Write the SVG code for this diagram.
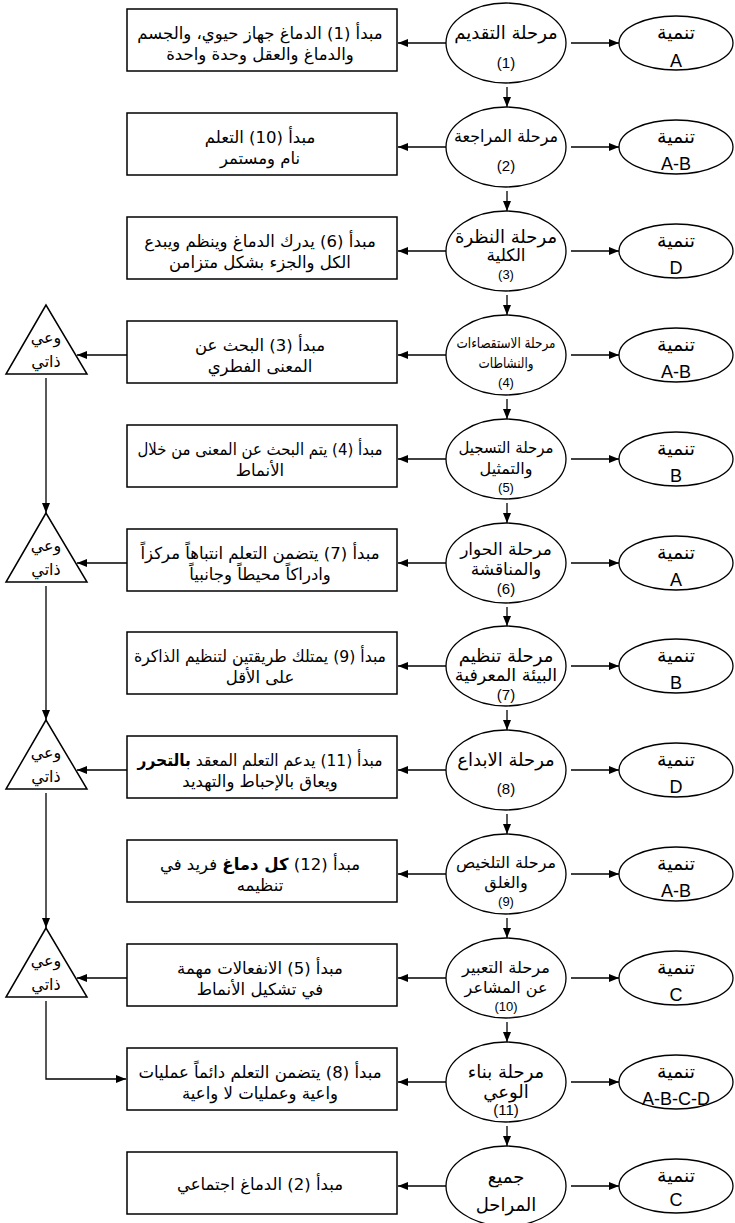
<svg xmlns="http://www.w3.org/2000/svg" width="735" height="1223" viewBox="0 0 735 1223">
<style>
.bg{fill:#fff}
.box{fill:#fff;stroke:#000;stroke-width:1.5}
.stage{fill:#fff;stroke:#000;stroke-width:1.3}
.dev{fill:#fff;stroke:#000;stroke-width:1.3}
.tri{fill:#fff;stroke:#000;stroke-width:1.5;stroke-linejoin:miter}
.ar{font-family:"DejaVu Sans",sans-serif;font-size:16.5px;text-anchor:middle;direction:rtl;dominant-baseline:central;fill:#000}
.st{font-family:"DejaVu Sans",sans-serif;font-size:18px;text-anchor:middle;direction:rtl;dominant-baseline:central;fill:#000}
.dv{font-family:"DejaVu Sans",sans-serif;font-size:19px;text-anchor:middle;direction:rtl;dominant-baseline:central;fill:#000}
.aw{font-family:"DejaVu Sans",sans-serif;font-size:16px;text-anchor:middle;direction:rtl;dominant-baseline:central;fill:#000}
.num{font-family:"Liberation Sans",Arial,sans-serif;font-size:15px;text-anchor:middle;dominant-baseline:central;fill:#000}
.num3{font-family:"Liberation Sans",Arial,sans-serif;font-size:13px;text-anchor:middle;dominant-baseline:central;fill:#000}
.lat{font-family:"Liberation Sans",Arial,sans-serif;font-size:18px;text-anchor:middle;dominant-baseline:central;fill:#000}
.b{font-weight:bold}
.conn line,.conn path{stroke:#000;stroke-width:1.3;fill:none}
.arr{marker-end:url(#ah)}
</style>
<defs>
<marker id="ah" viewBox="0 0 10 8" refX="10" refY="4" markerWidth="10" markerHeight="8" markerUnits="userSpaceOnUse" orient="auto"><path d="M0,0 L10,4 L0,8 z" fill="#000"/></marker>
</defs>
<rect class="bg" x="0" y="0" width="735" height="1223"/>

<g id="connectors" class="conn">
<line class="arr" x1="446" y1="43" x2="398" y2="43"/>
<line class="arr" x1="446" y1="147" x2="398" y2="147"/>
<line class="arr" x1="446" y1="251" x2="398" y2="251"/>
<line class="arr" x1="446" y1="355" x2="398" y2="355"/>
<line class="arr" x1="446" y1="459" x2="398" y2="459"/>
<line class="arr" x1="446" y1="563" x2="398" y2="563"/>
<line class="arr" x1="446" y1="666" x2="398" y2="666"/>
<line class="arr" x1="446" y1="770" x2="398" y2="770"/>
<line class="arr" x1="446" y1="874" x2="398" y2="874"/>
<line class="arr" x1="446" y1="978" x2="398" y2="978"/>
<line class="arr" x1="446" y1="1082" x2="398" y2="1082"/>
<line class="arr" x1="446" y1="1186" x2="398" y2="1186"/>
<line class="arr" x1="571" y1="43" x2="619" y2="43"/>
<line class="arr" x1="571" y1="147" x2="619" y2="147"/>
<line class="arr" x1="571" y1="251" x2="619" y2="251"/>
<line class="arr" x1="571" y1="355" x2="619" y2="355"/>
<line class="arr" x1="571" y1="459" x2="619" y2="459"/>
<line class="arr" x1="571" y1="563" x2="619" y2="563"/>
<line class="arr" x1="571" y1="666" x2="619" y2="666"/>
<line class="arr" x1="571" y1="770" x2="619" y2="770"/>
<line class="arr" x1="571" y1="874" x2="619" y2="874"/>
<line class="arr" x1="571" y1="978" x2="619" y2="978"/>
<line class="arr" x1="571" y1="1082" x2="619" y2="1082"/>
<line class="arr" x1="571" y1="1186" x2="619" y2="1186"/>
<line class="arr" x1="507" y1="87" x2="507" y2="107"/>
<line class="arr" x1="507" y1="191" x2="507" y2="211"/>
<line class="arr" x1="507" y1="295" x2="507" y2="315"/>
<line class="arr" x1="507" y1="399" x2="507" y2="419"/>
<line class="arr" x1="507" y1="503" x2="507" y2="523"/>
<line class="arr" x1="507" y1="607" x2="507" y2="626"/>
<line class="arr" x1="507" y1="710" x2="507" y2="730"/>
<line class="arr" x1="507" y1="814" x2="507" y2="834"/>
<line class="arr" x1="507" y1="918" x2="507" y2="938"/>
<line class="arr" x1="507" y1="1022" x2="507" y2="1042"/>
<line class="arr" x1="507" y1="1126" x2="507" y2="1146"/>
<line class="arr" x1="127" y1="355" x2="77" y2="355"/>
<line class="arr" x1="127" y1="563" x2="77" y2="563"/>
<line class="arr" x1="127" y1="770" x2="77" y2="770"/>
<line class="arr" x1="127" y1="978" x2="77" y2="978"/>
<line class="arr" x1="46" y1="378" x2="46" y2="513"/>
<line class="arr" x1="46" y1="586" x2="46" y2="720"/>
<line class="arr" x1="46" y1="793" x2="46" y2="928"/>
<path class="arr" d="M46,1001 L46,1079 L126,1079"/>
</g>

<g id="dev1"><ellipse class="dev" cx="676" cy="43" rx="57" ry="27"/><text class="dv" x="676" y="32">تنمية</text><text class="lat" x="676" y="61">A</text></g>
<g id="dev2"><ellipse class="dev" cx="676" cy="147" rx="57" ry="27"/><text class="dv" x="676" y="136">تنمية</text><text class="lat" x="676" y="164">A-B</text></g>
<g id="dev3"><ellipse class="dev" cx="676" cy="251" rx="57" ry="27"/><text class="dv" x="676" y="240">تنمية</text><text class="lat" x="676" y="268">D</text></g>
<g id="dev4"><ellipse class="dev" cx="676" cy="355" rx="57" ry="27"/><text class="dv" x="676" y="344">تنمية</text><text class="lat" x="676" y="372">A-B</text></g>
<g id="dev5"><ellipse class="dev" cx="676" cy="459" rx="57" ry="27"/><text class="dv" x="676" y="448">تنمية</text><text class="lat" x="676" y="476">B</text></g>
<g id="dev6"><ellipse class="dev" cx="676" cy="563" rx="57" ry="27"/><text class="dv" x="676" y="552">تنمية</text><text class="lat" x="676" y="580">A</text></g>
<g id="dev7"><ellipse class="dev" cx="676" cy="666" rx="57" ry="27"/><text class="dv" x="676" y="655">تنمية</text><text class="lat" x="676" y="683">B</text></g>
<g id="dev8"><ellipse class="dev" cx="676" cy="770" rx="57" ry="27"/><text class="dv" x="676" y="759">تنمية</text><text class="lat" x="676" y="787">D</text></g>
<g id="dev9"><ellipse class="dev" cx="676" cy="874" rx="57" ry="27"/><text class="dv" x="676" y="863">تنمية</text><text class="lat" x="676" y="891">A-B</text></g>
<g id="dev10"><ellipse class="dev" cx="676" cy="978" rx="57" ry="27"/><text class="dv" x="676" y="967">تنمية</text><text class="lat" x="676" y="995">C</text></g>
<g id="dev11"><ellipse class="dev" cx="676" cy="1082" rx="57" ry="27"/><text class="dv" x="676" y="1071">تنمية</text><text class="lat" x="676" y="1099">A-B-C-D</text></g>
<g id="dev12"><ellipse class="dev" cx="676" cy="1186" rx="57" ry="27"/><text class="dv" x="676" y="1175">تنمية</text><text class="lat" x="676" y="1200">C</text></g>

<g id="stage1"><ellipse class="stage" cx="506" cy="43" rx="60" ry="40"/><text class="st" x="506" y="32">مرحلة التقديم</text><text class="num" x="506" y="62">(1)</text></g>
<g id="stage2"><ellipse class="stage" cx="506" cy="147" rx="60" ry="40"/><text class="st" x="506" y="136" style="font-size:17px" textLength="104" lengthAdjust="spacingAndGlyphs">مرحلة المراجعة</text><text class="num" x="506" y="165">(2)</text></g>
<g id="stage3"><ellipse class="stage" cx="506" cy="251" rx="60" ry="40"/><text class="st" x="506" y="236">مرحلة النظرة</text><text class="st" x="506" y="255" style="font-size:17px">الكلية</text><text class="num3" x="506" y="274">(3)</text></g>
<g id="stage4"><ellipse class="stage" cx="506" cy="355" rx="60" ry="40"/><text class="st" x="506" y="343" style="font-size:14.5px" textLength="99" lengthAdjust="spacingAndGlyphs">مرحلة الاستقصاءات</text><text class="st" x="506" y="363" style="font-size:14.5px" textLength="55" lengthAdjust="spacingAndGlyphs">والنشاطات</text><text class="num3" x="506" y="382">(4)</text></g>
<g id="stage5"><ellipse class="stage" cx="506" cy="459" rx="60" ry="40"/><text class="st" x="506" y="447" style="font-size:16px" textLength="95" lengthAdjust="spacingAndGlyphs">مرحلة التسجيل</text><text class="st" x="506" y="468" style="font-size:16px">والتمثيل</text><text class="num3" x="506" y="487">(5)</text></g>
<g id="stage6"><ellipse class="stage" cx="506" cy="563" rx="60" ry="40"/><text class="st" x="506" y="549" style="font-size:17px">مرحلة الحوار</text><text class="st" x="506" y="569" style="font-size:17px">والمناقشة</text><text class="num" x="506" y="588">(6)</text></g>
<g id="stage7"><ellipse class="stage" cx="506" cy="666" rx="60" ry="40"/><text class="st" x="506" y="655">مرحلة تنظيم</text><text class="st" x="506" y="675" style="font-size:17.5px">البيئة المعرفية</text><text class="num" x="506" y="694">(7)</text></g>
<g id="stage8"><ellipse class="stage" cx="506" cy="770" rx="60" ry="40"/><text class="st" x="506" y="759">مرحلة الابداع</text><text class="num" x="506" y="788">(8)</text></g>
<g id="stage9"><ellipse class="stage" cx="506" cy="874" rx="60" ry="40"/><text class="st" x="506" y="862" style="font-size:16px" textLength="100" lengthAdjust="spacingAndGlyphs">مرحلة التلخيص</text><text class="st" x="506" y="882" style="font-size:16px">والغلق</text><text class="num3" x="506" y="901">(9)</text></g>
<g id="stage10"><ellipse class="stage" cx="506" cy="978" rx="60" ry="40"/><text class="st" x="506" y="967" style="font-size:16px" textLength="88" lengthAdjust="spacingAndGlyphs">مرحلة التعبير</text><text class="st" x="506" y="987" style="font-size:16px">عن المشاعر</text><text class="num3" x="506" y="1006">(10)</text></g>
<g id="stage11"><ellipse class="stage" cx="506" cy="1082" rx="60" ry="40"/><text class="st" x="506" y="1071">مرحلة بناء</text><text class="st" x="506" y="1091">الوعي</text><text class="num" x="506" y="1109">(11)</text></g>
<g id="stage12"><ellipse class="stage" cx="506" cy="1186" rx="60" ry="40"/><text class="st" x="506" y="1176">جميع</text><text class="st" x="506" y="1204">المراحل</text></g>

<g id="principle1"><rect class="box" x="127" y="9" width="270" height="62"/><text class="ar" x="260" y="33">مبدأ (1) الدماغ جهاز حيوي، والجسم</text><text class="ar" x="260" y="54">والدماغ والعقل وحدة واحدة</text></g>
<g id="principle10"><rect class="box" x="127" y="113" width="270" height="62"/><text class="ar" x="260" y="137">مبدأ (10) التعلم</text><text class="ar" x="260" y="158">نام ومستمر</text></g>
<g id="principle6"><rect class="box" x="127" y="217" width="270" height="62"/><text class="ar" x="260" y="241">مبدأ (6) يدرك الدماغ وينظم ويبدع</text><text class="ar" x="260" y="262">الكل والجزء بشكل متزامن</text></g>
<g id="principle3"><rect class="box" x="127" y="321" width="270" height="62"/><text class="ar" x="260" y="345">مبدأ (3) البحث عن</text><text class="ar" x="260" y="366">المعنى الفطري</text></g>
<g id="principle4"><rect class="box" x="127" y="425" width="270" height="62"/><text class="ar" x="260" y="449" textLength="245" lengthAdjust="spacingAndGlyphs">مبدأ (4) يتم البحث عن المعنى من خلال</text><text class="ar" x="260" y="470">الأنماط</text></g>
<g id="principle7"><rect class="box" x="127" y="529" width="270" height="62"/><text class="ar" x="260" y="553">مبدأ (7) يتضمن التعلم انتباهاً مركزاً</text><text class="ar" x="260" y="574">وادراكاً محيطاً وجانبياً</text></g>
<g id="principle9"><rect class="box" x="127" y="632" width="270" height="62"/><text class="ar" x="260" y="656" textLength="252" lengthAdjust="spacingAndGlyphs">مبدأ (9) يمتلك طريقتين لتنظيم الذاكرة</text><text class="ar" x="260" y="677">على الأقل</text></g>
<g id="principle11"><rect class="box" x="127" y="736" width="270" height="62"/><text class="ar" x="260" y="760" textLength="245" lengthAdjust="spacingAndGlyphs">مبدأ (11) يدعم التعلم المعقد <tspan class="b">بالتحرر</tspan></text><text class="ar" x="260" y="781">ويعاق بالإحباط والتهديد</text></g>
<g id="principle12"><rect class="box" x="127" y="840" width="270" height="62"/><text class="ar" x="260" y="864">مبدأ (12) <tspan class="b">كل دماغ</tspan> فريد في</text><text class="ar" x="260" y="885">تنظيمه</text></g>
<g id="principle5"><rect class="box" x="127" y="944" width="270" height="62"/><text class="ar" x="260" y="968">مبدأ (5) الانفعالات مهمة</text><text class="ar" x="260" y="989">في تشكيل الأنماط</text></g>
<g id="principle8"><rect class="box" x="127" y="1048" width="270" height="62"/><text class="ar" x="260" y="1072">مبدأ (8) يتضمن التعلم دائماً عمليات</text><text class="ar" x="260" y="1093">واعية وعمليات لا واعية</text></g>
<g id="principle2"><rect class="box" x="127" y="1152" width="270" height="62"/><text class="ar" x="260" y="1184">مبدأ (2) الدماغ اجتماعي</text></g>

<g id="aware1"><polygon class="tri" points="46,305 6,374 87,374"/><text class="aw" x="46" y="337">وعي</text><text class="aw" x="46" y="361">ذاتي</text></g>
<g id="aware2"><polygon class="tri" points="46,513 6,582 87,582"/><text class="aw" x="46" y="545">وعي</text><text class="aw" x="46" y="569">ذاتي</text></g>
<g id="aware3"><polygon class="tri" points="46,720 6,789 87,789"/><text class="aw" x="46" y="752">وعي</text><text class="aw" x="46" y="776">ذاتي</text></g>
<g id="aware4"><polygon class="tri" points="46,928 6,997 87,997"/><text class="aw" x="46" y="960">وعي</text><text class="aw" x="46" y="984">ذاتي</text></g>
</svg>
